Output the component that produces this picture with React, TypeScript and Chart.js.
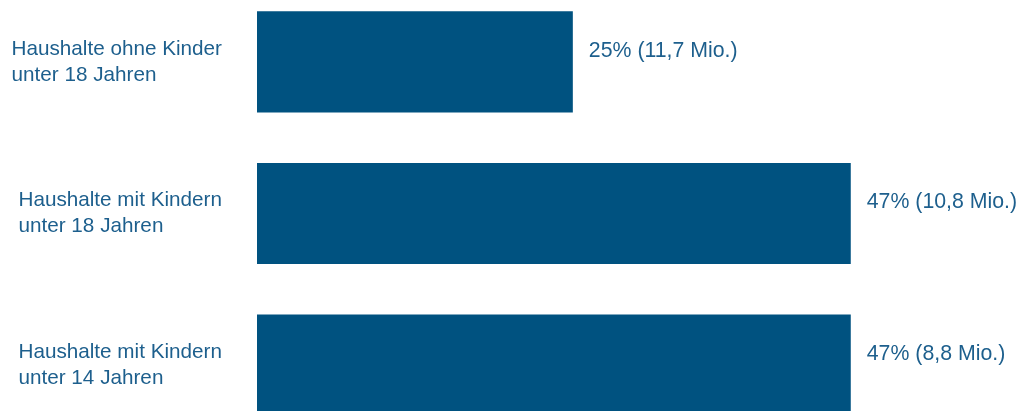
import React, { useEffect, useRef } from "react";
import { Chart, registerables } from "chart.js";

Chart.register(...registerables);

const categories: string[][] = [
  ["Haushalte ohne Kinder", "unter 18 Jahren"],
  ["Haushalte mit Kindern", "unter 18 Jahren"],
  ["Haushalte mit Kindern", "unter 14 Jahren"],
];
const shares: number[] = [25, 47, 47];
const valueLabels: string[] = ["25% (11,7 Mio.)", "47% (10,8 Mio.)", "47% (8,8 Mio.)"];
const xMax = 60;

const BAR_COLOR = "#005280";
const TEXT_COLOR = "#1d5f8d";
const FONT = '20.7px "Liberation Sans", Arial, sans-serif';
const VALUE_FONT = '21.3px "Liberation Sans", Arial, sans-serif';

const labelPlugin = {
  id: "customLabels",
  afterDatasetsDraw(chart: any) {
    const ctx = chart.ctx;
    const yScale = chart.scales.y;
    const meta = chart.getDatasetMeta(0);
    ctx.save();
    ctx.font = FONT;
    ctx.fillStyle = TEXT_COLOR;
    ctx.textBaseline = "middle";
    ctx.textAlign = "left";
    const lineH = 26;
    categories.forEach((lines, i) => {
      const cy = yScale.getPixelForValue(i);
      const widest = Math.max(...lines.map((l) => ctx.measureText(l).width));
      const x0 = 222 - widest;
      const startY = cy - ((lines.length - 1) * lineH) / 2;
      lines.forEach((l, j) => ctx.fillText(l, x0, startY + j * lineH));
    });
    ctx.font = VALUE_FONT;
    meta.data.forEach((bar: any, i: number) => {
      ctx.fillText(valueLabels[i], bar.x + 16, bar.y - 11);
    });
    ctx.restore();
  },
};

export default function App() {
  const ref = useRef<HTMLCanvasElement | null>(null);
  useEffect(() => {
    if (!ref.current) return;
    const chart = new Chart(ref.current, {
      type: "bar",
      data: {
        labels: categories.map((c) => c.join(" ")),
        datasets: [
          {
            data: shares,
            backgroundColor: BAR_COLOR,
            borderWidth: 0,
            categoryPercentage: 1,
            barPercentage: 0.667,
          },
        ],
      },
      options: {
        indexAxis: "y",
        animation: false,
        responsive: true,
        maintainAspectRatio: false,
        layout: { padding: { left: 257, right: 10, top: 0, bottom: 0 } },
        plugins: { legend: { display: false }, tooltip: { enabled: false } },
        scales: {
          x: { display: false, min: 0, max: xMax },
          y: { display: false },
        },
      },
      plugins: [labelPlugin],
    });
    return () => chart.destroy();
  }, []);
  return (
    <div style={{ position: "fixed", left: 0, top: 0, width: 1025, height: 411, overflow: "hidden", background: "#fff" }}>
      <div style={{ position: "absolute", left: 0, top: -14, width: 1025, height: 455 }}>
        <canvas ref={ref} />
      </div>
    </div>
  );
}
